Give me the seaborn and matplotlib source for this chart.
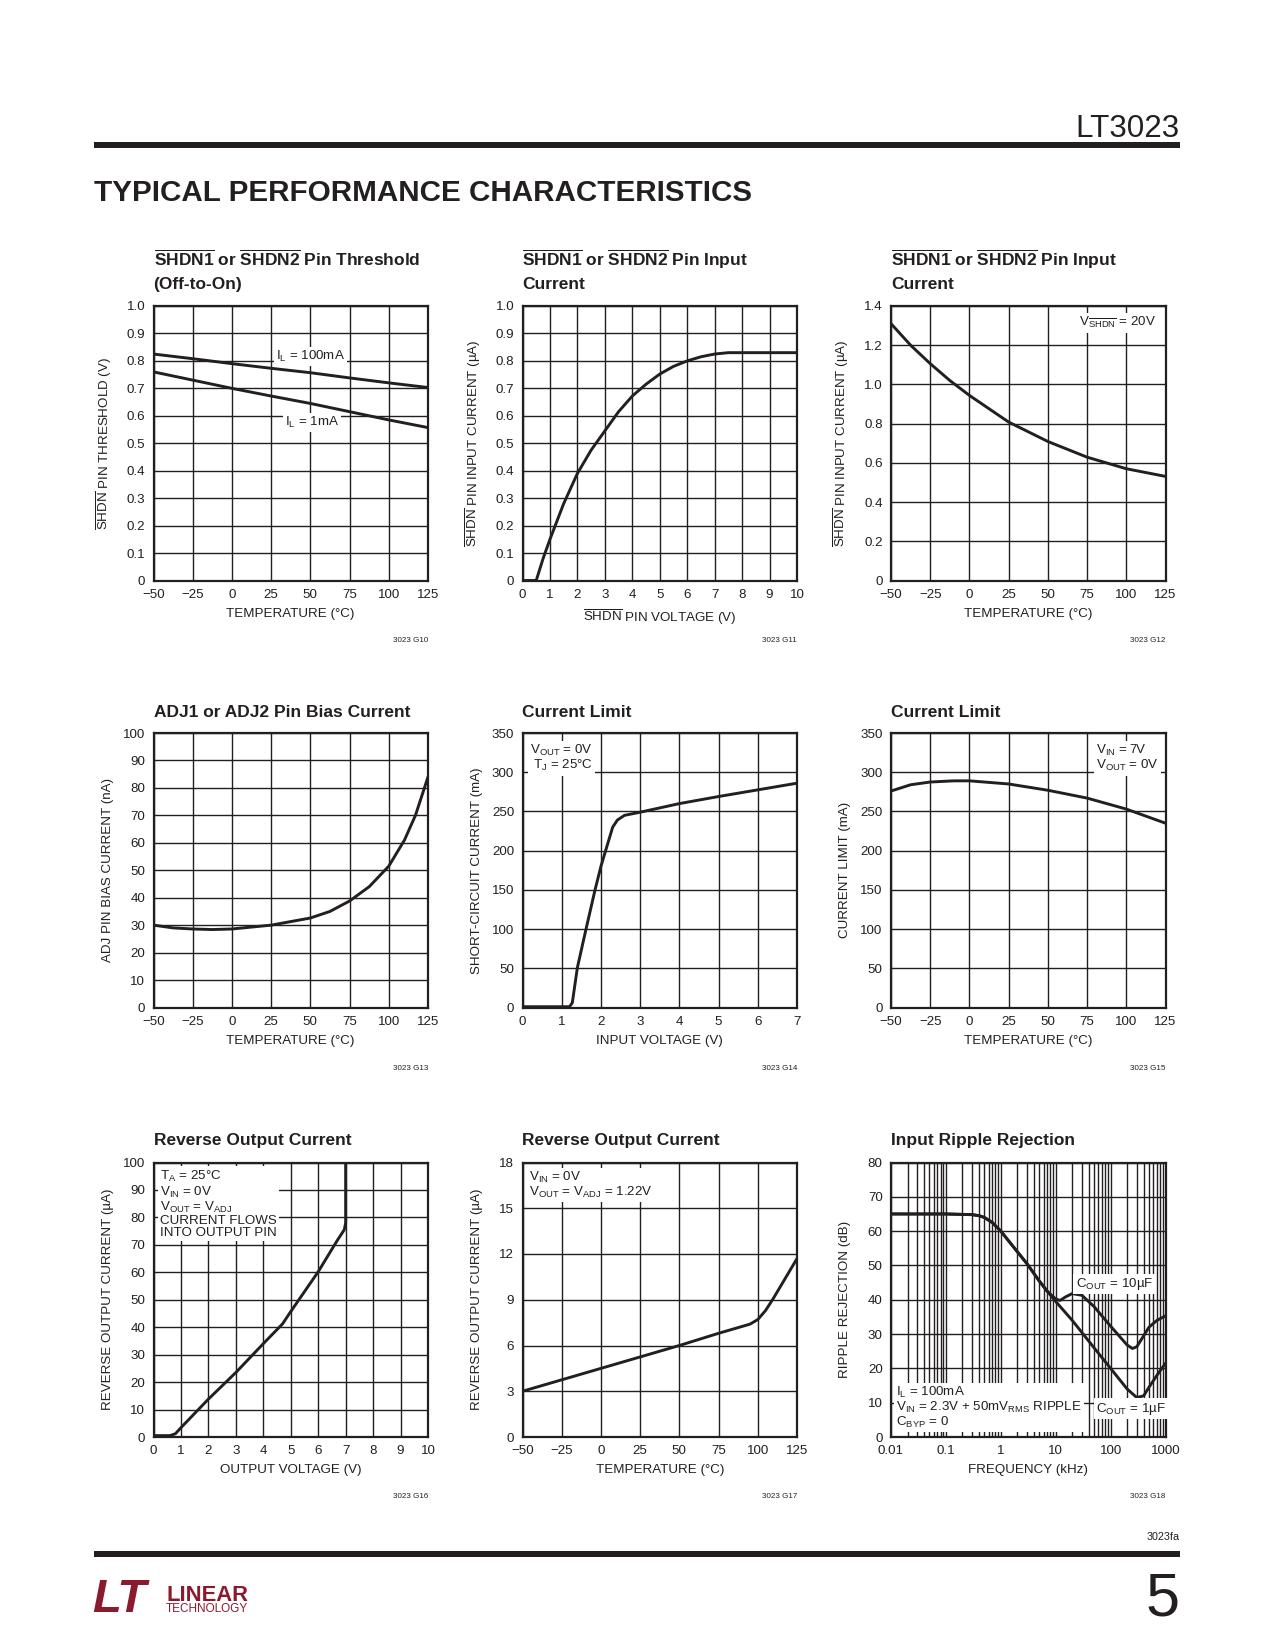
import matplotlib
matplotlib.use("Agg")
import matplotlib.pyplot as plt
import seaborn as sns
from matplotlib.patches import Rectangle
from matplotlib.ticker import LogLocator, NullFormatter

# ---- data ----
# G10 SHDN pin threshold vs temperature
g10_temp = [-50, -25, 0, 25, 50, 75, 100, 125]
g10_il100 = [0.825, 0.808, 0.790, 0.773, 0.757, 0.738, 0.720, 0.703]
g10_il1 = [0.760, 0.730, 0.700, 0.672, 0.645, 0.615, 0.585, 0.557]

# G11 SHDN pin input current vs SHDN voltage
g11_volt = [0, 0.5, 0.75, 1, 1.5, 2, 2.5, 3, 3.5, 4, 4.5, 5, 5.5, 6, 6.5, 7, 7.5, 8, 9, 10]
g11_curr = [0, 0, 0.08, 0.15, 0.28, 0.39, 0.475, 0.545, 0.615, 0.672, 0.715, 0.752,
            0.78, 0.80, 0.815, 0.825, 0.83, 0.83, 0.83, 0.83]

# G12 SHDN pin input current vs temperature (VSHDN = 20V)
g12_temp = [-50, -37.5, -25, -12.5, 0, 25, 50, 75, 100, 125]
g12_curr = [1.31, 1.20, 1.106, 1.02, 0.944, 0.808, 0.709, 0.629, 0.570, 0.531]

# G13 ADJ pin bias current vs temperature
g13_temp = [-50, -37.5, -25, -12.5, 0, 25, 50, 62.5, 75, 87.5, 100, 110, 117, 125]
g13_curr = [30.0, 29.0, 28.6, 28.4, 28.6, 30.0, 32.6, 35.0, 38.8, 44.0, 51.5, 61.0, 70.0, 84.0]

# G14 short-circuit current vs input voltage
g14_vin = [0, 1.0, 1.2, 1.27, 1.4, 1.62, 1.85, 2.0, 2.15, 2.3, 2.42, 2.6, 3.0, 4, 5, 6, 7]
g14_isc = [1, 1, 1, 6, 51, 100, 150, 180, 205, 230, 239, 245, 249, 260, 269, 277.5, 286]

# G15 current limit vs temperature
g15_temp = [-50, -37.5, -25, -10, 0, 25, 50, 75, 100, 125]
g15_ilim = [276, 284, 287.5, 289, 289, 285, 277, 267, 253, 235]

# G16 reverse output current vs output voltage
g16_vout = [0, 0.6, 0.8, 1.0, 2, 3, 4, 4.7, 5, 6, 6.7, 6.95, 7.0, 7.0]
g16_irev = [0.5, 0.5, 1.2, 3.4, 13.8, 23.5, 34, 41.2, 45.7, 60.2, 71.7, 75.5, 78, 100]

# G17 reverse output current vs temperature
g17_temp = [-50, 0, 50, 75, 95, 100, 105, 110, 125]
g17_irev = [3.0, 4.5, 6.0, 6.8, 7.4, 7.7, 8.3, 9.1, 11.7]

# G18 input ripple rejection vs frequency
g18_freq_1u = [0.01, 0.1, 0.3, 0.4, 0.5, 0.7, 1, 2, 3, 5, 7, 10, 20, 50, 100, 200, 300, 400, 500, 700, 1000]
g18_rej_1u = [65, 65, 64.8, 64.5, 64, 62.5, 60, 54, 50.5, 45.5, 42.5, 39.5, 34, 26, 20, 14, 11.5, 12, 14.5, 18, 21.5]
g18_freq_10u = [0.01, 0.1, 0.3, 0.4, 0.5, 0.7, 1, 2, 3, 5, 7, 10, 12, 15, 20, 30, 50, 100, 200, 250, 300, 400, 500, 700, 1000]
g18_rej_10u = [65, 65, 64.8, 64.5, 64, 62.5, 60, 54, 50.5, 45.5, 42.5, 40.2, 39.8, 40.8, 41.8, 41.3, 38,
               32.3, 26.8, 25.8, 26.3, 29.5, 32, 34, 35.3]

INK = "#231f20"
RED = "#8b1a2e"
W, H = 1275, 1650

sns.set_style("white")
plt.rcParams["font.family"] = ["Liberation Sans Narrow", "Liberation Sans", "DejaVu Sans"]
plt.rcParams["axes.unicode_minus"] = True

fig = plt.figure(figsize=(W / 100, H / 100), dpi=100)
renderer = fig.canvas.get_renderer()


def fit_size(text, target_px, weight="normal", base=12):
    # pick a font size so the text is as wide as on the page
    t = fig.text(0, 0, text, fontsize=base, fontweight=weight)
    w = t.get_window_extent(renderer).width
    t.remove()
    return base * target_px / w


FS = min(fit_size("TEMPERATURE (°C)", 116) * 1.1, 10.5)
TFS = fit_size("ADJ1 or ADJ2 Pin Bias Current", 245, weight="bold") * 1.04


def add_ax(left, top, w, h):
    return fig.add_axes([left / W, 1 - (top + h) / H, w / W, h / H])


def style(ax, xlim, ylim, xticks, yticks, xlabel, ylabel, yfmt=None):
    ax.set_xlim(*xlim)
    ax.set_ylim(*ylim)
    ax.set_xticks(xticks)
    ax.set_yticks(yticks)
    if yfmt:
        ax.set_yticklabels([yfmt(v) for v in yticks])
    ax.grid(True, color=INK, lw=1.0)
    for s in ax.spines.values():
        s.set_color(INK)
        s.set_linewidth(1.6)
    ax.tick_params(length=0, pad=6, labelsize=FS, colors=INK)
    ax.set_xlabel(xlabel, fontsize=FS, color=INK)
    ax.set_ylabel(ylabel, fontsize=FS, color=INK)
    ax.xaxis.set_label_coords(0.5, -0.1)
    ax.yaxis.set_label_coords(-0.145, 0.5)


def curve(ax, x, y):
    sns.lineplot(x=x, y=y, ax=ax, color=INK, lw=2.1, sort=False, estimator=None)


def title(left, base, lines):
    for i, t in enumerate(lines):
        fig.text(left / W, 1 - (base + i * 23) / H, t, fontsize=TFS, fontweight="bold",
                 color=INK, ha="left", va="baseline")


def code(right, y, t):
    fig.text(right / W, 1 - y / H, t, fontsize=FS * 0.6, color=INK, ha="right", va="center")


def note(ax, x, y, t, ha="left", va="top", ma=None):
    ax.text(x, y, t, fontsize=FS, color=INK, ha=ha, va=va, multialignment=ma or ha,
            linespacing=1.0, bbox=dict(facecolor="white", edgecolor="none", pad=1.5), zorder=5)


SHDN = r"$\overline{\mathregular{SHDN}}$"
temp_ticks = [-50, -25, 0, 25, 50, 75, 100, 125]
temp_lab = "TEMPERATURE (°C)"
cols = [153.5, 522.5, 891]
rows = [306, 733, 1162.5]
AW, AH = 274.5, 274.5

# ---- G10 ----
ax = add_ax(cols[0], rows[0], AW, AH)
curve(ax, g10_temp, g10_il100)
curve(ax, g10_temp, g10_il1)
style(ax, (-50, 125), (0, 1.0), temp_ticks, [i / 10 for i in range(11)], temp_lab,
      SHDN + " PIN THRESHOLD (V)", yfmt=lambda v: "0" if v == 0 else f"{v:.1f}")
note(ax, 50, 0.815, r"I$_\mathregular{L}$ = 100mA", ha="center", va="center")
note(ax, 51, 0.575, r"I$_\mathregular{L}$ = 1mA", ha="center", va="center")
title(cols[0], 266, [r"$\overline{\mathregular{SHDN1}}$ or $\overline{\mathregular{SHDN2}}$ Pin Threshold",
                     "(Off-to-On)"])
code(cols[0] + AW, 641, "3023 G10")

# ---- G11 ----
ax = add_ax(cols[1], rows[0], AW, AH)
curve(ax, g11_volt, g11_curr)
style(ax, (0, 10), (0, 1.0), list(range(11)), [i / 10 for i in range(11)],
      SHDN + " PIN VOLTAGE (V)", SHDN + " PIN INPUT CURRENT (µA)",
      yfmt=lambda v: "0" if v == 0 else f"{v:.1f}")
title(cols[1], 266, [r"$\overline{\mathregular{SHDN1}}$ or $\overline{\mathregular{SHDN2}}$ Pin Input",
                     "Current"])
code(cols[1] + AW, 641, "3023 G11")

# ---- G12 ----
ax = add_ax(cols[2], rows[0], AW, AH)
curve(ax, g12_temp, g12_curr)
style(ax, (-50, 125), (0, 1.4), temp_ticks, [i / 5 for i in range(8)], temp_lab,
      SHDN + " PIN INPUT CURRENT (µA)", yfmt=lambda v: "0" if v == 0 else f"{v:.1f}")
note(ax, 119, 1.315, r"V$_{\overline{\mathregular{SHDN}}}$ = 20V", ha="right", va="center")
title(cols[2], 266, [r"$\overline{\mathregular{SHDN1}}$ or $\overline{\mathregular{SHDN2}}$ Pin Input",
                     "Current"])
code(cols[2] + AW, 641, "3023 G12")

# ---- G13 ----
ax = add_ax(cols[0], rows[1], AW, AH)
curve(ax, g13_temp, g13_curr)
style(ax, (-50, 125), (0, 100), temp_ticks, list(range(0, 101, 10)), temp_lab,
      "ADJ PIN BIAS CURRENT (nA)")
title(cols[0], 717, ["ADJ1 or ADJ2 Pin Bias Current"])
code(cols[0] + AW, 1069, "3023 G13")

# ---- G14 ----
ax = add_ax(cols[1], rows[1], AW, AH)
curve(ax, g14_vin, g14_isc)
style(ax, (0, 7), (0, 350), list(range(8)), list(range(0, 351, 50)), "INPUT VOLTAGE (V)",
      "SHORT-CIRCUIT CURRENT (mA)")
note(ax, 1.79, 337, "V$_\\mathregular{OUT}$ = 0V\nT$_\\mathregular{J}$ = 25°C", ha="right", va="top")
title(cols[1], 717, ["Current Limit"])
code(cols[1] + AW, 1069, "3023 G14")

# ---- G15 ----
ax = add_ax(cols[2], rows[1], AW, AH)
curve(ax, g15_temp, g15_ilim)
style(ax, (-50, 125), (0, 350), temp_ticks, list(range(0, 351, 50)), temp_lab, "CURRENT LIMIT (mA)")
note(ax, 81, 337, "V$_\\mathregular{IN}$ = 7V\nV$_\\mathregular{OUT}$ = 0V", ha="left", va="top")
title(cols[2], 717, ["Current Limit"])
code(cols[2] + AW, 1069, "3023 G15")

# ---- G16 ----
ax = add_ax(cols[0], rows[2], AW, AH)
curve(ax, g16_vout, g16_irev)
style(ax, (0, 10), (0, 100), list(range(11)), list(range(0, 101, 10)), "OUTPUT VOLTAGE (V)",
      "REVERSE OUTPUT CURRENT (µA)")
note(ax, 0.25, 97.5, "T$_\\mathregular{A}$ = 25°C\nV$_\\mathregular{IN}$ = 0V\n"
     "V$_\\mathregular{OUT}$ = V$_\\mathregular{ADJ}$\nCURRENT FLOWS\nINTO OUTPUT PIN")
title(cols[0], 1145, ["Reverse Output Current"])
code(cols[0] + AW, 1497, "3023 G16")

# ---- G17 ----
ax = add_ax(cols[1], rows[2], AW, AH)
curve(ax, g17_temp, g17_irev)
style(ax, (-50, 125), (0, 18), temp_ticks, list(range(0, 19, 3)), temp_lab,
      "REVERSE OUTPUT CURRENT (µA)")
note(ax, -46, 17.5, "V$_\\mathregular{IN}$ = 0V\nV$_\\mathregular{OUT}$ = V$_\\mathregular{ADJ}$ = 1.22V")
title(cols[1], 1145, ["Reverse Output Current"])
code(cols[1] + AW, 1497, "3023 G17")

# ---- G18 ----
ax = add_ax(cols[2], rows[2], AW, AH)
ax.set_xscale("log")
curve(ax, g18_freq_1u, g18_rej_1u)
curve(ax, g18_freq_10u, g18_rej_10u)
style(ax, (0.01, 1000), (0, 80), [0.01, 0.1, 1, 10, 100, 1000], list(range(0, 81, 10)),
      "FREQUENCY (kHz)", "RIPPLE REJECTION (dB)")
ax.set_xticklabels(["0.01", "0.1", "1", "10", "100", "1000"])
ax.xaxis.set_minor_locator(LogLocator(base=10, subs=range(2, 10)))
ax.xaxis.set_minor_formatter(NullFormatter())
ax.tick_params(which="minor", length=0)
ax.grid(True, which="minor", axis="x", color=INK, lw=1.0)
note(ax, 23, 44.5, "C$_\\mathregular{OUT}$ = 10µF", ha="left", va="center")
note(ax, 55, 8.3, "C$_\\mathregular{OUT}$ = 1µF", ha="left", va="center")
note(ax, 0.0125, 15.2, "I$_\\mathregular{L}$ = 100mA\nV$_\\mathregular{IN}$ = 2.3V + 50mV$_\\mathregular{RMS}$ RIPPLE\n"
     "C$_\\mathregular{BYP}$ = 0")
title(cols[2], 1145, ["Input Ripple Rejection"])
code(cols[2] + AW, 1497, "3023 G18")

# ---- page furniture ----
fig.patches.append(Rectangle((94 / W, 1 - 148 / H), 1086 / W, 6 / H, transform=fig.transFigure,
                             facecolor=INK, edgecolor="none"))
fig.patches.append(Rectangle((94 / W, 1 - 1557 / H), 1086 / W, 6 / H, transform=fig.transFigure,
                             facecolor=INK, edgecolor="none"))
fig.text(1180 / W, 1 - 137 / H, "LT3023", fontsize=fit_size("LT3023", 104), color=INK,
         ha="right", va="baseline")
head = "TYPICAL PERFORMANCE CHARACTERISTICS"
fig.text(94 / W, 1 - 201 / H, head, fontsize=fit_size(head, 655, weight="heavy"), fontweight="heavy",
         color=INK, ha="left", va="baseline")
fig.text(1180 / W, 1 - 1537 / H, "3023fa", fontsize=FS * 0.8, color=INK, ha="right", va="center")
fig.text(1180 / W, 1 - 1615 / H, "5", fontsize=44, color=INK, ha="right", va="baseline")
fig.text(92 / W, 1 - 1612 / H, "LT", fontsize=34, fontweight="heavy", style="italic", color=RED,
         ha="left", va="baseline")
fig.text(166 / W, 1 - 1601 / H, "LINEAR", fontsize=fit_size("LINEAR", 82, weight="bold"),
         fontweight="bold", color=RED, ha="left", va="baseline")
fig.text(166 / W, 1 - 1612 / H, "TECHNOLOGY", fontsize=fit_size("TECHNOLOGY", 82), color=RED,
         ha="left", va="baseline")

fig.savefig("out.png", dpi=100)
